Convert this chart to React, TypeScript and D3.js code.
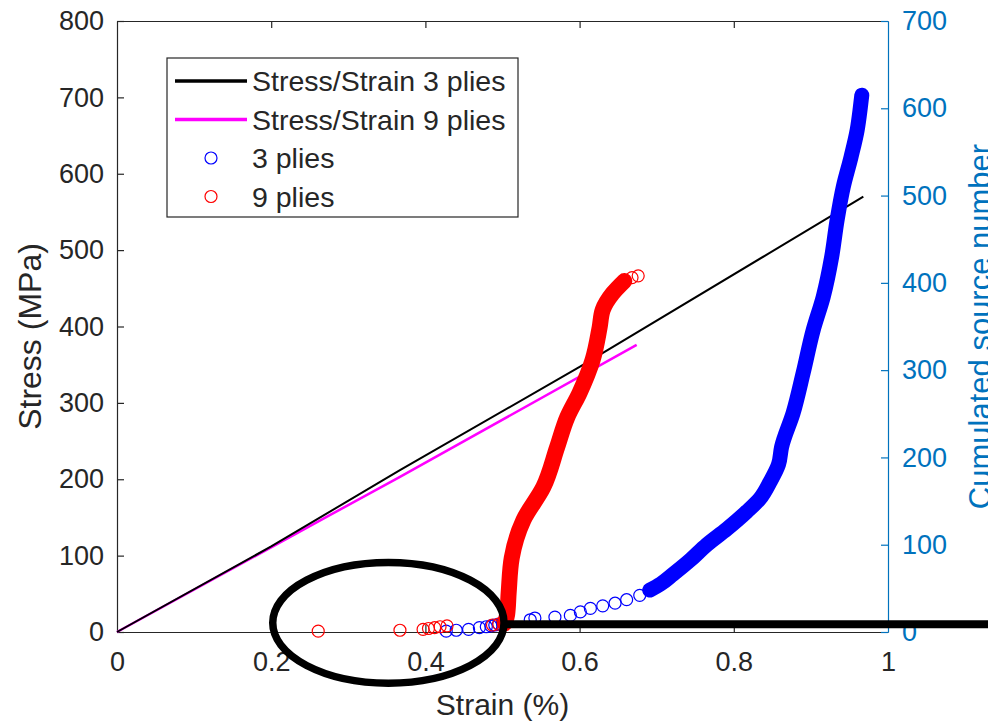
import React, { useEffect, useRef } from 'react';
import * as d3 from 'd3';

const W = 988;
const H = 723;
const margin = { top: 21, right: 100, bottom: 91, left: 117 };

const font = 'Liberation Sans, Arial, sans-serif';
const axisColor = '#262626';
const rightColor = '#0072BD';

const strainTicks = [0, 0.2, 0.4, 0.6, 0.8, 1];
const stressTicks = [0, 100, 200, 300, 400, 500, 600, 700, 800];
const countTicks = [0, 100, 200, 300, 400, 500, 600, 700];

// stress / strain curves (left axis)
const strain3 = [0, 0.2, 0.367, 0.6, 0.968];
const stress3 = [0, 112, 212, 347, 570];
const strain9 = [0, 0.276, 0.367, 0.674];
const stress9 = [0, 153, 203, 376];

// cumulated AE sources, 3 plies (right axis)
const ae3SparseStrain = [0.427, 0.44, 0.456, 0.47, 0.479, 0.485, 0.49, 0.495, 0.5, 0.536, 0.542, 0.568, 0.588, 0.601, 0.614, 0.63, 0.646, 0.661, 0.678];
const ae3SparseCount = [1, 2, 3, 5, 6, 7, 8, 9, 10, 14, 16, 17, 19, 23, 27, 30, 33, 37, 42];
const ae3DenseStrain = [0.691, 0.705, 0.721, 0.743, 0.765, 0.791, 0.817, 0.834, 0.847, 0.858, 0.862, 0.877, 0.89, 0.903, 0.916, 0.927, 0.934, 0.942, 0.952, 0.96, 0.964, 0.966];
const ae3DenseCount = [48, 55, 66, 82, 100, 118, 138, 153, 172, 192, 212, 251, 297, 346, 384, 430, 472, 510, 544, 575, 600, 615];

// cumulated AE sources, 9 plies (right axis)
const ae9SparseStrain = [0.261, 0.367, 0.397, 0.404, 0.412, 0.419, 0.428, 0.487, 0.495, 0.668, 0.676];
const ae9SparseCount = [1, 2, 3, 4, 5, 6, 7, 8, 9, 406, 408];
const ae9DenseStrain = [0.503, 0.506, 0.508, 0.512, 0.527, 0.553, 0.571, 0.584, 0.6, 0.617, 0.626, 0.63, 0.643, 0.658];
const ae9DenseCount = [10, 20, 45, 85, 128, 166, 212, 246, 274, 312, 349, 369, 388, 402];

const legendLabels = ['Stress/Strain 3 plies', 'Stress/Strain 9 plies', '3 plies', '9 plies'];
const legendKinds = ['line', 'line', 'circle', 'circle'];
const legendColors = ['#000000', '#ff00ff', '#0000ff', '#ff0000'];

const zip = (a: number[], b: number[]) => a.map((v, i) => [v, b[i]] as [number, number]);

export default function App() {
  const ref = useRef<SVGSVGElement>(null);

  useEffect(() => {
    const svg = d3.select(ref.current);
    svg.selectAll('*').remove();

    const x = d3.scaleLinear().domain([0, 1]).range([margin.left, W - margin.right]);
    const yL = d3.scaleLinear().domain([0, 800]).range([H - margin.bottom, margin.top]);
    const yR = d3.scaleLinear().domain([0, 700]).range([H - margin.bottom, margin.top]);

    svg.append('rect').attr('width', W).attr('height', H).attr('fill', '#fff');

    // bottom axis
    const gx = svg.append('g').attr('transform', `translate(0,${yL(0)})`)
      .call(d3.axisBottom(x).tickValues(strainTicks).tickSizeInner(-7).tickSizeOuter(0).tickPadding(20)
        .tickFormat(d => d3.format('~g')(d as number)));
    // top border
    const gt = svg.append('g').attr('transform', `translate(0,${yL(800)})`)
      .call(d3.axisTop(x).tickValues(strainTicks).tickSizeInner(-7).tickSizeOuter(0).tickFormat(() => ''));
    // left axis
    const gl = svg.append('g').attr('transform', `translate(${x(0)},0)`)
      .call(d3.axisLeft(yL).tickValues(stressTicks).tickSizeInner(-7).tickSizeOuter(0).tickPadding(13));
    // right axis
    const gr = svg.append('g').attr('transform', `translate(${x(1)},0)`)
      .call(d3.axisRight(yR).tickValues(countTicks).tickSizeInner(-7).tickSizeOuter(0).tickPadding(14));

    [gx, gt, gl].forEach(g => {
      g.selectAll('path, line').attr('stroke', axisColor).attr('stroke-width', 1.2);
      g.selectAll('text').attr('fill', axisColor).attr('font-size', 27).attr('font-family', font);
    });
    gr.selectAll('path, line').attr('stroke', rightColor).attr('stroke-width', 1.2);
    gr.selectAll('text').attr('fill', rightColor).attr('font-size', 27).attr('font-family', font);
    gx.selectAll('.tick line').filter((d) => d === 0 || d === 1).remove();
    gt.selectAll('.tick line').filter((d) => d === 0 || d === 1).remove();

    // stress/strain lines
    const lineL = d3.line<[number, number]>().x(d => x(d[0])).y(d => yL(d[1]));
    svg.append('path').datum(zip(strain9, stress9)).attr('d', lineL)
      .attr('fill', 'none').attr('stroke', '#ff00ff').attr('stroke-width', 2.5);
    svg.append('path').datum(zip(strain3, stress3)).attr('d', lineL)
      .attr('fill', 'none').attr('stroke', '#000').attr('stroke-width', 2);

    // AE scatter: dense runs of markers merge into a solid band
    const lineR = d3.line<[number, number]>().x(d => x(d[0])).y(d => yR(d[1])).curve(d3.curveMonotoneY);
    const scatter = (sx: number[], sc: number[], dx: number[], dc: number[], color: string, bw: number) => {
      svg.append('path').datum(zip(dx, dc)).attr('d', lineR)
        .attr('fill', 'none').attr('stroke', color).attr('stroke-width', bw)
        .attr('stroke-linecap', 'round').attr('stroke-linejoin', 'round');
      svg.append('g').selectAll('circle').data(zip(sx, sc).concat(zip(dx, dc))).enter().append('circle')
        .attr('cx', d => x(d[0])).attr('cy', d => yR(d[1])).attr('r', 6)
        .attr('fill', 'none').attr('stroke', color).attr('stroke-width', 1.2);
    };
    scatter(ae3SparseStrain, ae3SparseCount, ae3DenseStrain, ae3DenseCount, '#0000ff', 15);
    scatter(ae9SparseStrain, ae9SparseCount, ae9DenseStrain, ae9DenseCount, '#ff0000', 16);

    // axis labels
    svg.append('text').attr('x', (x(0) + x(1)) / 2).attr('y', H - 8).attr('text-anchor', 'middle')
      .attr('font-family', font).attr('font-size', 30).attr('fill', axisColor).text('Strain (%)');
    svg.append('text').attr('transform', `translate(41,${(yL(0) + yL(800)) / 2 + 10}) rotate(-90)`)
      .attr('text-anchor', 'middle').attr('font-family', font).attr('font-size', 32).attr('fill', axisColor)
      .text('Stress (MPa)');
    svg.append('text').attr('transform', `translate(991,${(yR(0) + yR(700)) / 2}) rotate(-90)`)
      .attr('text-anchor', 'middle').attr('font-family', font).attr('font-size', 31).attr('fill', rightColor)
      .text('Cumulated source number');

    // legend
    const lg = svg.append('g').attr('transform', 'translate(167,58)');
    lg.append('rect').attr('width', 351).attr('height', 159).attr('fill', '#fff')
      .attr('stroke', axisColor).attr('stroke-width', 1.2);
    const rows = lg.selectAll('g.row').data(legendLabels).enter().append('g')
      .attr('transform', (d, i) => `translate(0,${23 + i * 38.5})`);
    rows.each(function (d, i) {
      const r = d3.select(this);
      if (legendKinds[i] === 'line') {
        r.append('line').attr('x1', 8).attr('x2', 80).attr('stroke', legendColors[i]).attr('stroke-width', 3.5);
      } else {
        r.append('circle').attr('cx', 44).attr('r', 6).attr('fill', 'none')
          .attr('stroke', legendColors[i]).attr('stroke-width', 1.2);
      }
      r.append('text').attr('x', 85).attr('dy', '0.36em').attr('font-family', font).attr('font-size', 28.5)
        .attr('fill', axisColor).text(d);
    });

    // hand-drawn highlight over the figure
    svg.append('ellipse').attr('cx', x(0.352)).attr('cy', yL(12))
      .attr('rx', x(0.502) - x(0.352)).attr('ry', yL(0) - yL(79))
      .attr('fill', 'none').attr('stroke', '#000').attr('stroke-width', 7.5);
    svg.append('line').attr('x1', x(0.502)).attr('x2', W).attr('y1', yL(10)).attr('y2', yL(10))
      .attr('stroke', '#000').attr('stroke-width', 8);
  }, []);

  return (
    <svg ref={ref} width={W} height={H} style={{ position: 'absolute', left: 0, top: 0 }} />
  );
}
